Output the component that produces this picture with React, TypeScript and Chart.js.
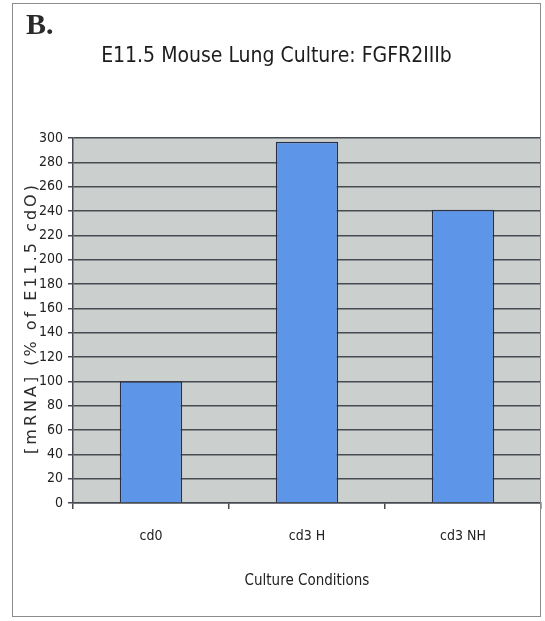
import React, { useEffect, useRef } from "react";
import { Chart, registerables } from "chart.js";

Chart.register(...registerables);

// ---- data ----
const CATEGORIES = ["cd0", "cd3 H", "cd3 NH"];
const VALUES = [100, 297, 241];
const Y_MIN = 0;
const Y_MAX = 300;
const Y_STEP = 20;
const TITLE = "E11.5 Mouse Lung Culture: FGFR2IIIb";
const PANEL_LABEL = "B.";
const X_TITLE = "Culture Conditions";
const Y_TITLE = "[mRNA] (% of E11.5 cdO)";

// ---- style ----
const W = 545;
const H = 621;
const NARROW = "'DejaVu Sans Condensed', 'Liberation Sans Narrow', sans-serif";
const TEXT = "#222222";
const GRID = "#474a50";
const PLOT_BG = "#cbd0ce";
const BAR_FILL = "#5d95e8";
const BAR_EDGE = "#2a3045";

const plotBg = {
  id: "plotBg",
  beforeDraw(chart: any) {
    const { ctx, chartArea } = chart;
    if (!chartArea) return;
    ctx.save();
    ctx.fillStyle = PLOT_BG;
    ctx.fillRect(chartArea.left, chartArea.top, chartArea.right - chartArea.left, chartArea.bottom - chartArea.top);
    ctx.restore();
  },
};

const shiftTitle = {
  id: "shiftTitle",
  afterLayout(chart: any) {
    if (chart.titleBlock) chart.titleBlock.left += 12;
  },
};

const yTitle = {
  id: "yTitle",
  afterDraw(chart: any) {
    const { ctx, chartArea } = chart;
    const cy = (chartArea.top + chartArea.bottom) / 2;
    ctx.save();
    ctx.translate(32, cy - 1);
    ctx.rotate(-Math.PI / 2);
    ctx.font = "16px 'DejaVu Sans', sans-serif";
    (ctx as any).letterSpacing = "3px";
    ctx.fillStyle = "#2c2c2c";
    ctx.textAlign = "center";
    ctx.textBaseline = "middle";
    ctx.fillText(Y_TITLE, 1.5, 0);
    ctx.restore();
  },
};

export default function App() {
  const ref = useRef<HTMLCanvasElement | null>(null);

  useEffect(() => {
    document.body.style.margin = "0";
    document.body.style.background = "#ffffff";
    const canvas = ref.current;
    if (!canvas) return;
    const chart = new Chart(canvas, {
      type: "bar",
      data: {
        labels: CATEGORIES,
        datasets: [
          {
            data: VALUES,
            backgroundColor: BAR_FILL,
            borderColor: BAR_EDGE,
            borderWidth: 1.5,
            barPercentage: 0.4,
            categoryPercentage: 1.0,
          },
        ],
      },
      options: {
        responsive: false,
        animation: false,
        devicePixelRatio: 1,
        layout: { padding: { left: 0, right: 4, top: 0, bottom: 0 } },
        plugins: {
          legend: { display: false },
          tooltip: { enabled: false },
          title: {
            display: true,
            text: TITLE,
            color: "#1c1c1c",
            font: { family: NARROW, size: 21, weight: "normal" },
            padding: { top: 43.5, bottom: 69.3 },
          },
        },
        scales: {
          x: {
            afterFit: (s: any) => {
              s.height = 118;
            },
            grid: {
              offset: true,
              drawOnChartArea: false,
              drawTicks: true,
              tickLength: 6,
              color: GRID,
              lineWidth: 1.5,
            },
            border: { display: true, color: GRID, width: 1.5 },
            ticks: {
              color: TEXT,
              font: { family: NARROW, size: 14 },
              padding: 19,
            },
            title: {
              display: true,
              text: X_TITLE,
              color: TEXT,
              font: { family: NARROW, size: 15 },
              padding: { top: 0, bottom: 31 },
            },
          },
          y: {
            min: Y_MIN,
            max: Y_MAX,
            afterFit: (s: any) => {
              s.width = 73;
            },
            ticks: {
              stepSize: Y_STEP,
              color: TEXT,
              font: { family: NARROW, size: 14 },
              padding: 5,
            },
            grid: {
              color: GRID,
              lineWidth: 1.5,
              tickLength: 5,
            },
            border: { display: true, color: GRID, width: 1.5 },
          },
        },
      },
      plugins: [plotBg, shiftTitle, yTitle],
    });
    return () => chart.destroy();
  }, []);

  return (
    <div style={{ position: "relative", width: W, height: H, background: "#ffffff" }}>
      <canvas ref={ref} width={W} height={H} style={{ display: "block", width: W, height: H }} />
      <div
        style={{
          position: "absolute",
          left: 12,
          top: 3,
          width: 529,
          height: 614,
          border: "1px solid #8c8c8c",
          boxSizing: "border-box",
          pointerEvents: "none",
        }}
      />
      <div
        style={{
          position: "absolute",
          left: 26,
          top: 9,
          fontFamily: "'Liberation Serif', 'DejaVu Serif', serif",
          fontWeight: "bold",
          fontSize: 30,
          lineHeight: "30px",
          color: "#2a2a2a",
        }}
      >
        {PANEL_LABEL}
      </div>
    </div>
  );
}
